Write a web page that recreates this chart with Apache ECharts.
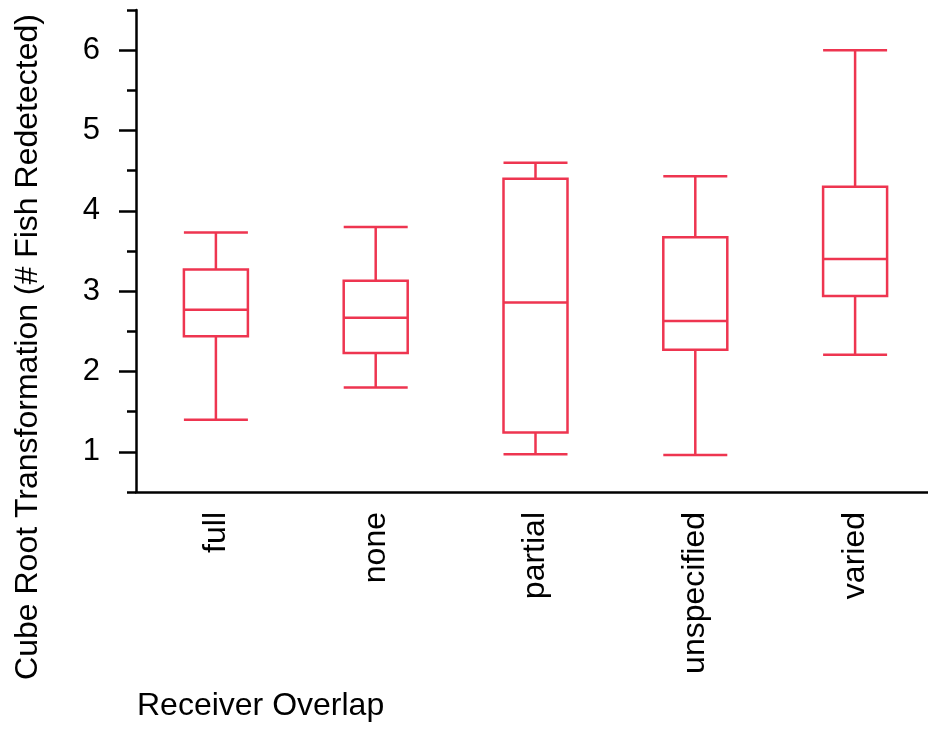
<!DOCTYPE html>
<html>
<head>
<meta charset="utf-8">
<script src="https://cdn.jsdelivr.net/npm/echarts@6/dist/echarts.min.js"></script>
<style>
  html, body { margin: 0; padding: 0; background: #fff; }
  #chart { width: 928px; height: 731px; }
</style>
</head>
<body>
<div id="chart"></div>
<script>
const categories = ['full', 'none', 'partial', 'unspecified', 'varied'];
// [min, Q1, median, Q3, max]
const boxFull = [1.40, 2.44, 2.77, 3.27, 3.73];
const boxNone = [1.80, 2.23, 2.67, 3.13, 3.80];
const boxPartial = [0.97, 1.24, 2.86, 4.40, 4.60];
const boxUnspecified = [0.96, 2.27, 2.63, 3.67, 4.43];
const boxVaried = [2.21, 2.94, 3.40, 4.30, 6.00];
const majorTicks = [1, 2, 3, 4, 5, 6];
const minorTicks = [0.5, 1.5, 2.5, 3.5, 4.5, 5.5, 6.5];

const red = '#ee3550';
const font = '"Liberation Sans", Arial, sans-serif';

const chart = echarts.init(document.getElementById('chart'), null, { renderer: 'canvas' });

var option = {
    animation: false,
    backgroundColor: '#fff',
    grid: {
        left: 136,
        width: 799,
        top: 10,
        height: 482,
        outerBoundsMode: 'none'
    },
    xAxis: {
        type: 'category',
        data: categories,
        axisLine: { lineStyle: { color: '#000', width: 2.5 } },
        axisTick: { show: false },
        splitLine: { show: false },
        axisLabel: {
            rotate: 90,
            margin: 20,
            color: '#000',
            fontSize: 32,
            fontFamily: font
        }
    },
    yAxis: [{
        type: 'value',
        min: 0.5,
        max: 6.5,
        position: 'left',
        axisLine: { show: true, lineStyle: { color: '#000', width: 2.5 } },
        axisTick: {
            show: true,
            length: 17,
            customValues: majorTicks,
            lineStyle: { color: '#000', width: 2.5 }
        },
        axisLabel: {
            customValues: majorTicks,
            margin: 36,
            color: '#000',
            fontSize: 31,
            fontFamily: font
        },
        splitLine: { show: false }
    }, {
        type: 'value',
        min: 0.5,
        max: 6.5,
        position: 'left',
        offset: 0,
        axisLine: { show: false },
        axisTick: {
            show: true,
            length: 9,
            customValues: minorTicks,
            lineStyle: { color: '#000', width: 2.5 }
        },
        axisLabel: { show: false },
        splitLine: { show: false }
    }],
    graphic: [{
        type: 'text',
        x: 28,
        y: 347,
        rotation: Math.PI / 2,
        style: {
            text: 'Cube Root Transformation (# Fish Redetected)',
            fill: '#000',
            font: '32px ' + font,
            textAlign: 'center',
            textVerticalAlign: 'middle'
        }
    }, {
        type: 'text',
        x: 137,
        y: 706,
        style: {
            text: 'Receiver Overlap',
            fill: '#000',
            font: '32px ' + font,
            textAlign: 'left',
            textVerticalAlign: 'middle'
        }
    }],
    series: [{
        type: 'boxplot',
        data: [boxFull, boxNone, boxPartial, boxUnspecified, boxVaried],
        boxWidth: [64, 64],
        itemStyle: {
            color: '#fff',
            borderColor: red,
            borderWidth: 2.5
        }
    }]
};

chart.setOption(option);
</script>
</body>
</html>
